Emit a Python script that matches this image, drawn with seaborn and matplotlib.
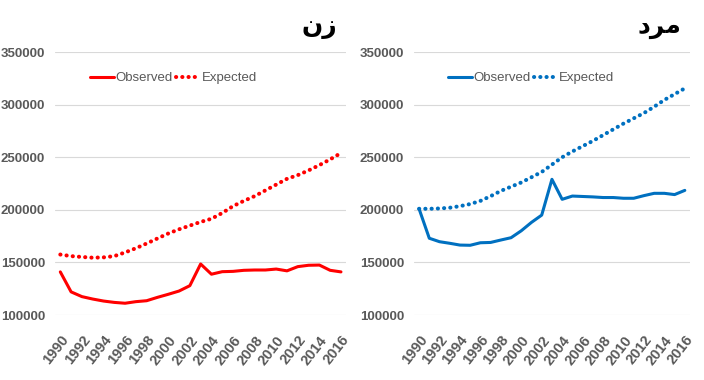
import pandas as pd
import matplotlib
matplotlib.use("Agg")
import matplotlib.pyplot as plt
import seaborn as sns

years = list(range(1990, 2017))

# women (زن)
female_observed = [141000, 122000, 117500, 115200, 113300, 112000, 111200, 112700, 113600,
                   116800, 119700, 122800, 127900, 148500, 138800, 141200, 141500, 142500,
                   142800, 142800, 143700, 142000, 146000, 147300, 147500, 142500, 141000]
female_expected = [157500, 156000, 155200, 154500, 154800, 156000, 159500, 163500, 168000,
                   172800, 177500, 181500, 185000, 188500, 191500, 197000, 203500, 208500,
                   213000, 218500, 224000, 229500, 233000, 237500, 242500, 248000, 254000]

# men (مرد)
male_observed = [201000, 173000, 169700, 168200, 166500, 166300, 168700, 169000, 171300,
                 173500, 180100, 188100, 195000, 229000, 210000, 213100, 212700, 212300,
                 211700, 211700, 211000, 211000, 213500, 215700, 215700, 214500, 218500]
male_expected = [201000, 201000, 201300, 202000, 203500, 205500, 208500, 213000, 218000,
                 222000, 226000, 231000, 236000, 243000, 250000, 255500, 260500, 265500,
                 271000, 276500, 282000, 287000, 292000, 298000, 304500, 310000, 315500]

series_labels = ["Observed", "Expected"]
y_ticks = [100000, 150000, 200000, 250000, 300000, 350000]
x_ticks = years[::2]

# titles in visual order, Arabic presentation forms (matplotlib does no shaping)
title_female = "\uFEE5\uFEAF"        # زن
title_male = "\uFEA9\uFEAE\uFEE3"    # مرد

sns.set_style("white")
plt.rcParams["font.family"] = ["Liberation Sans", "DejaVu Sans"]

fig = plt.figure(figsize=(7.04, 3.8), dpi=100)
ax1 = fig.add_axes([0.078, 0.171, 0.414, 0.692])
ax2 = fig.add_axes([0.588, 0.171, 0.392, 0.692])

panels = [
    (ax1, female_observed, female_expected, "#FF0000", title_female),
    (ax2, male_observed, male_expected, "#0070C0", title_male),
]

for ax, obs, exp, color, title in panels:
    df = pd.DataFrame({"year": years, "obs": obs, "exp": exp})
    sns.lineplot(data=df, x="year", y="obs", ax=ax, color=color, linewidth=2.2,
                 label=series_labels[0])
    sns.lineplot(data=df, x="year", y="exp", ax=ax, color=color, linewidth=2.9,
                 linestyle=(0, (0.05, 1.5)), dash_capstyle="round", label=series_labels[1])
    ax.set_xlim(1989.5, 2016.5)
    ax.set_ylim(100000, 350000)
    ax.set_yticks(y_ticks)
    ax.set_xticks(x_ticks)
    ax.set_yticklabels([str(v) for v in y_ticks], fontsize=9.5, color="#595959",
                       fontweight="bold")
    ax.set_xticklabels([str(v) for v in x_ticks], fontsize=10.5, color="#595959",
                       fontweight="bold", rotation=52, ha="right", rotation_mode="anchor")
    ax.grid(axis="y", color="#D9D9D9", linewidth=0.8)
    ax.set_axisbelow(True)
    for s in ax.spines.values():
        s.set_visible(False)
    ax.tick_params(axis="y", length=0, pad=7)
    ax.tick_params(axis="x", length=0, pad=13)
    ax.set_xlabel("")
    ax.set_ylabel("")
    leg = ax.legend(loc="center left", bbox_to_anchor=(0.08, 0.9), ncol=2, frameon=False,
                    fontsize=9.5, handlelength=1.8, handletextpad=0.15, columnspacing=0.2)
    for t in leg.get_texts():
        t.set_color("#595959")
    ax.text(0.97, 1.05, title, transform=ax.transAxes, ha="right", va="bottom",
            fontsize=18, fontweight="bold", family="DejaVu Sans", color="black")

fig.savefig("out.png", dpi=100)
